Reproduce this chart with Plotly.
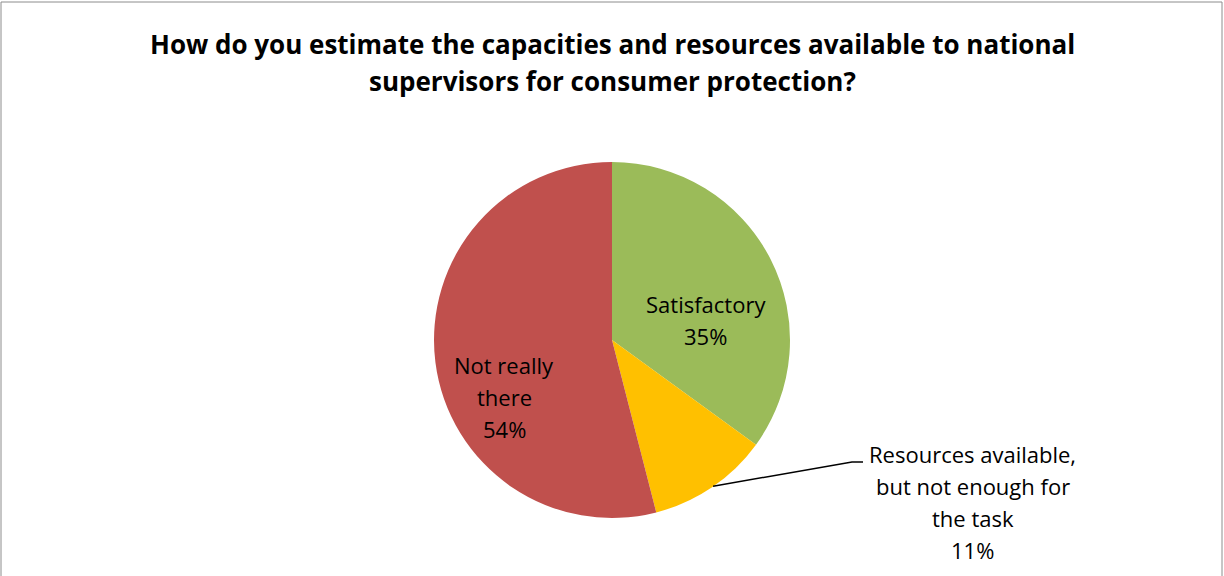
import math
import plotly.graph_objects as go

categories = ["Satisfactory", "Resources available, but not enough for the task", "Not really there"]
label_lines = [["Satisfactory"], ["Resources available,", "but not enough for", "the task"], ["Not really", "there"]]
values = [35, 11, 54]
colors = ["#9BBB59", "#FFC000", "#C0504D"]
title_lines = ["How do you estimate the capacities and resources available to national",
               "supervisors for consumer protection?"]

W, H = 1224, 576
cx, cy, R = 612, 340, 178  # pie centre and radius in px

FONT = "Open Sans"
LBL_SIZE = 22
TITLE_SIZE = 26

fig = go.Figure()
fig.add_trace(go.Pie(
    labels=categories,
    values=values,
    sort=False,
    direction="clockwise",
    rotation=0,
    marker=dict(colors=colors, line=dict(width=0)),
    textinfo="none",
    hoverinfo="label+percent",
    showlegend=False,
    domain=dict(x=[(cx - R) / W, (cx + R) / W], y=[1 - (cy + R) / H, 1 - (cy - R) / H]),
))

total = sum(values)
pcts = [round(100 * v / total) for v in values]


def px2paper(x, y):
    return x / W, 1 - y / H


def text_block(lines, x_center, first_baseline, pitch, size, bold=False):
    out = []
    for k, line in enumerate(lines):
        base = first_baseline + k * pitch
        yc = base - 0.36 * size
        px_, py_ = px2paper(x_center, yc)
        out.append(dict(x=px_, y=py_, xref="paper", yref="paper", showarrow=False,
                        xanchor="center", yanchor="middle",
                        text=f"<b>{line}</b>" if bold else line,
                        font=dict(family=FONT, size=size, color="#000000")))
    return out


# mid-angles (degrees clockwise from top) computed from data
cum = 0
mids = []
for v in values:
    mids.append((cum + v / 2) / total * 360)
    cum += v

# label placement (style): (x centre, first baseline) in px
placement = {0: (706, 312), 1: (973, 462), 2: (504, 373)}
PITCH = 32

annotations = []
for i in range(len(values)):
    lines = label_lines[i] + [f"{pcts[i]}%"]
    xc, b0 = placement[i]
    annotations += text_block(lines, xc, b0, PITCH, LBL_SIZE)

# leader line for the small slice, starting from its mid-angle on the rim
a = math.radians(mids[1])
ex = cx + R * math.sin(a)
ey = cy - R * math.cos(a)
p1 = px2paper(ex + 1, ey - 1)
p2 = px2paper(852, 462)
p3 = px2paper(863, 462)
fig.add_shape(type="path", xref="paper", yref="paper",
              path=f"M {p1[0]} {p1[1]} L {p2[0]} {p2[1]} L {p3[0]} {p3[1]}",
              line=dict(color="#000000", width=1.5))

annotations += text_block(title_lines, W / 2, 53, 37, TITLE_SIZE, bold=True)

# chart border
q0 = px2paper(1, 2)
q1 = px2paper(1222, 580)
fig.add_shape(type="rect", xref="paper", yref="paper", x0=q0[0], y0=q0[1], x1=q1[0], y1=q1[1],
              line=dict(color="#8C8C8C", width=1), fillcolor="rgba(0,0,0,0)")

fig.update_layout(
    width=W, height=H,
    margin=dict(l=0, r=0, t=0, b=0),
    paper_bgcolor="#FFFFFF",
    plot_bgcolor="#FFFFFF",
    annotations=annotations,
    font=dict(family=FONT),
)

fig.write_html("out.html", config={"displayModeBar": False},
               post_script="document.body.style.margin='0';document.body.style.overflow='hidden';")
